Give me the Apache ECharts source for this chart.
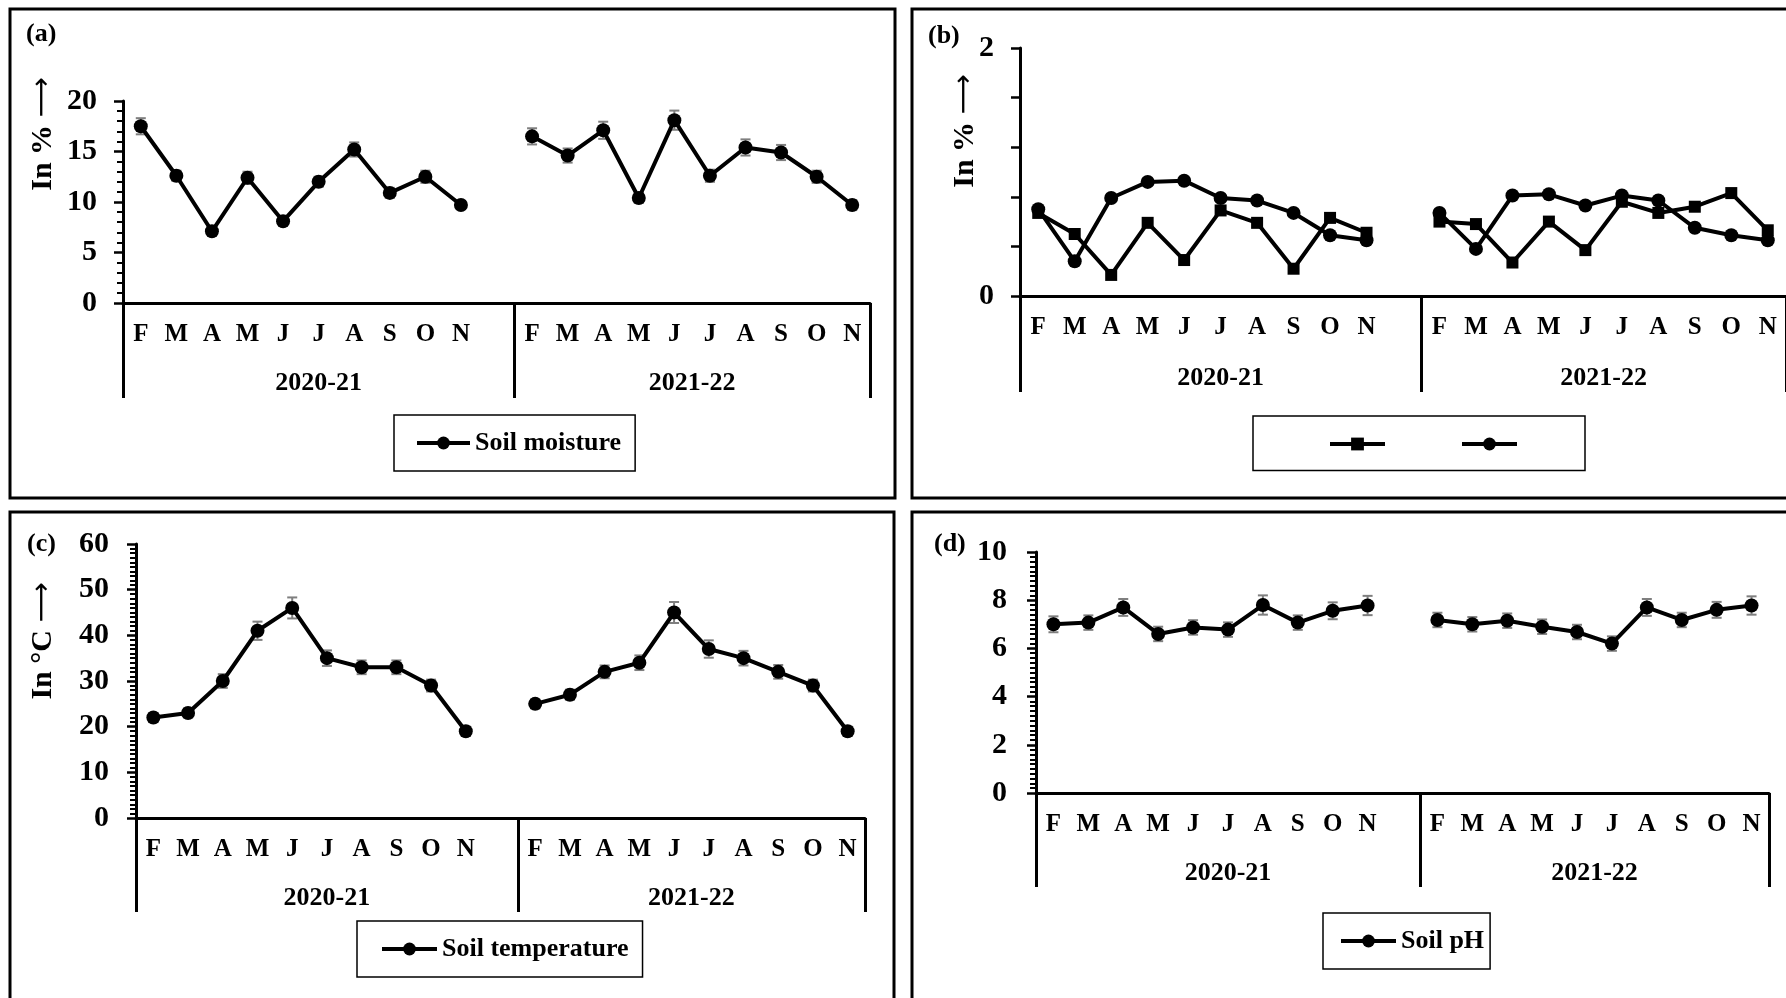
<!DOCTYPE html>
<html>
<head>
<meta charset="utf-8">
<title>Soil parameters 2020-22</title>
<script src="https://cdn.jsdelivr.net/npm/echarts@6/dist/echarts.min.js"></script>
<style>
  html, body { margin: 0; padding: 0; background: #ffffff; }
  #chart { width: 1786px; height: 998px; }
</style>
</head>
<body>
<div id="chart"></div>
<script>
// Month initials (February to November) and the two seasons
const months = ['F', 'M', 'A', 'M', 'J', 'J', 'A', 'S', 'O', 'N'];
const seasons = ['2020-21', '2021-22'];

// (a) Soil moisture, %
const moisture2020 = [17.5, 12.6, 7.1, 12.4, 8.1, 12.0, 15.2, 10.9, 12.5, 9.7];
const moisture2021 = [16.5, 14.6, 17.1, 10.4, 18.1, 12.6, 15.4, 14.9, 12.5, 9.7];
const moistureErr2020 = [0.8, 0.5, 0.4, 0.6, 0.4, 0.5, 0.7, 0.5, 0.6, 0.4];
const moistureErr2021 = [0.8, 0.7, 0.85, 0.5, 0.95, 0.6, 0.8, 0.75, 0.6, 0.5];

// (b) two series, %
const squares2020 = [0.67, 0.50, 0.17, 0.59, 0.29, 0.69, 0.59, 0.22, 0.63, 0.51];
const squares2021 = [0.60, 0.58, 0.27, 0.60, 0.37, 0.76, 0.67, 0.72, 0.83, 0.53];
const circles2020 = [0.70, 0.28, 0.79, 0.92, 0.93, 0.79, 0.77, 0.67, 0.49, 0.45];
const circles2021 = [0.67, 0.38, 0.81, 0.82, 0.73, 0.81, 0.77, 0.55, 0.49, 0.45];

// (c) Soil temperature, °C
const temp2020 = [22, 23, 30, 41, 46, 35, 33, 33, 29, 19];
const temp2021 = [25, 27, 32, 34, 45, 37, 35, 32, 29, 19];
const tempErr2020 = [1.0, 1.0, 1.5, 2.0, 2.3, 1.7, 1.5, 1.5, 1.3, 1.0];
const tempErr2021 = [1.0, 1.1, 1.4, 1.6, 2.3, 1.9, 1.6, 1.5, 1.3, 1.0];

// (d) Soil pH
const ph2020 = [7.0, 7.07, 7.7, 6.6, 6.87, 6.78, 7.8, 7.07, 7.56, 7.78];
const ph2021 = [7.18, 7.0, 7.15, 6.9, 6.68, 6.2, 7.7, 7.18, 7.6, 7.78];
const phErr2020 = [0.33, 0.3, 0.35, 0.3, 0.3, 0.3, 0.4, 0.3, 0.35, 0.4];
const phErr2021 = [0.3, 0.3, 0.3, 0.3, 0.3, 0.3, 0.35, 0.3, 0.33, 0.38];

// Y-axis tick settings per panel
const yTicksA = { max: 20, interval: 5, minor: 5 };
const yTicksB = { max: 2, interval: 0.4, minor: 0, shown: [0, 2] };
const yTicksC = { max: 60, interval: 10, minor: 10 };
const yTicksD = { max: 10, interval: 2, minor: 10 };

const FONT = '"Liberation Serif", "Times New Roman", serif';
const INK = '#000000';

// Season 1, an empty slot, season 2 on one category axis
const categories = [
  ...months.map((m, i) => seasons[0] + ':' + i),
  'gap',
  ...months.map((m, i) => seasons[1] + ':' + i)
];
const monthLabels = [...months, '', ...months];
const GAP_INDEX = months.length;
const SLOTS = categories.length;

function joinSeasons(a, b) { return [...a, null, ...b]; }
function errorData(vals, errs) {
  const out = [];
  vals.forEach((v, i) => { if (v != null) out.push([i, v, errs[i]]); });
  return out;
}

function bandAxes(gridIndex, drop, yearMargin) {
  return [
    {
      type: 'category', gridIndex, data: categories, boundaryGap: true,
      axisLine: { show: true, lineStyle: { color: INK, width: 3 } },
      axisTick: { show: false },
      splitLine: { show: false },
      axisLabel: {
        interval: 0, margin: 19, color: INK,
        fontFamily: FONT, fontWeight: 'bold', fontSize: 25,
        formatter: (v, idx) => monthLabels[idx]
      }
    },
    {
      type: 'value', gridIndex, min: 0, max: SLOTS, position: 'bottom',
      axisLine: { show: false },
      splitLine: { show: false },
      axisTick: {
        show: true, customValues: [0, GAP_INDEX + 1, SLOTS], length: drop,
        lineStyle: { color: INK, width: 3 }
      },
      axisLabel: {
        customValues: [(GAP_INDEX + 1) / 2, (GAP_INDEX + 1 + SLOTS) / 2],
        margin: yearMargin, color: INK,
        fontFamily: FONT, fontWeight: 'bold', fontSize: 26,
        formatter: v => (v < GAP_INDEX + 1 ? seasons[0] : seasons[1])
      }
    }
  ];
}

function valueAxis(gridIndex, t, margin) {
  return {
    type: 'value', gridIndex, min: 0, max: t.max, interval: t.interval,
    axisLine: { show: true, lineStyle: { color: INK, width: 3 } },
    axisTick: { show: true, length: 9, lineStyle: { color: INK, width: 2.5 } },
    minorTick: { show: t.minor > 0, splitNumber: t.minor || 5, length: 6, lineStyle: { color: INK, width: 2 } },
    splitLine: { show: false },
    minorSplitLine: { show: false },
    axisLabel: {
      margin, color: INK, fontFamily: FONT, fontWeight: 'bold', fontSize: 30,
      formatter: v => (t.shown ? (t.shown.some(s => Math.abs(s - v) < 1e-9) ? String(v) : '') : String(v))
    }
  };
}

function lineSeries(name, data, gridIndex, symbol, size) {
  return {
    type: 'line', name, data,
    xAxisIndex: gridIndex * 2, yAxisIndex: gridIndex,
    symbol, symbolSize: size, showSymbol: true, connectNulls: false,
    lineStyle: { color: INK, width: 4 },
    itemStyle: { color: INK },
    emphasis: { disabled: true },
    z: 3
  };
}

function errorSeries(data, gridIndex) {
  return {
    type: 'custom', xAxisIndex: gridIndex * 2, yAxisIndex: gridIndex,
    data, encode: { x: 0, y: 1 }, z: 1, silent: true,
    renderItem: (params, api) => {
      const x = api.value(0), y = api.value(1), e = api.value(2);
      const hi = api.coord([x, y + e]);
      const lo = api.coord([x, y - e]);
      const cap = 5;
      const style = { stroke: '#7f7f7f', lineWidth: 2 };
      return {
        type: 'group',
        children: [
          { type: 'line', shape: { x1: hi[0], y1: hi[1], x2: lo[0], y2: lo[1] }, style },
          { type: 'line', shape: { x1: hi[0] - cap, y1: hi[1], x2: hi[0] + cap, y2: hi[1] }, style },
          { type: 'line', shape: { x1: lo[0] - cap, y1: lo[1], x2: lo[0] + cap, y2: lo[1] }, style }
        ]
      };
    }
  };
}

const legendText = { color: INK, fontFamily: FONT, fontWeight: 'bold', fontSize: 26 };
const legendBox = {
  borderColor: INK, borderWidth: 1.5, backgroundColor: '#ffffff', orient: 'horizontal', selectedMode: false,
  lineStyle: { width: 4, color: INK }, itemStyle: { color: INK }
};

const chart = echarts.init(document.getElementById('chart'), null, { renderer: 'canvas' });

const LETTER_FONT = 'bold 26px "Liberation Serif", "Times New Roman", serif';
// rotated axis titles: bold serif words followed by a long thin arrow
const titleRich = {
  w: { fontFamily: FONT, fontWeight: 'bold', fontSize: 30, fill: INK },
  arr: { fontFamily: '"DejaVu Sans", sans-serif', fontWeight: 'normal', fontSize: 28, fill: INK }
};
function axisTitle(x, y, words) {
  return {
    type: 'text', silent: true, x, y, rotation: Math.PI / 2,
    style: { text: '{w|' + words + ' }{arr|\u27f6}', rich: titleRich, fill: INK, textAlign: 'center', textVerticalAlign: 'middle' }
  };
}

const option = {
  backgroundColor: '#ffffff',
  animation: false,
  grid: [
    { left: 123, top: 101, width: 747, height: 202 },
    { left: 1020, top: 48, width: 773, height: 248 },
    { left: 136, top: 544, width: 729, height: 274 },
    { left: 1036, top: 552, width: 733, height: 241 }
  ],
  xAxis: [
    ...bandAxes(0, 95, 67),
    ...bandAxes(1, 96, 69),
    ...bandAxes(2, 94, 67),
    ...bandAxes(3, 94, 67)
  ],
  yAxis: [
    valueAxis(0, yTicksA, 26),
    valueAxis(1, yTicksB, 26),
    valueAxis(2, yTicksC, 27),
    valueAxis(3, yTicksD, 29)
  ],
  legend: [
    Object.assign({ left: 394, top: 415, padding: [15, 14, 15, 21], itemWidth: 53, itemHeight: 16,
      data: ['Soil moisture'], textStyle: legendText }, legendBox),
    Object.assign({ left: 1253, top: 416, padding: [20, 66, 20, 75], itemWidth: 55, itemHeight: 16, itemGap: 73,
      data: ['Square series', 'Circle series'], formatter: () => '', textStyle: legendText }, legendBox),
    Object.assign({ left: 357, top: 921, padding: [15, 14, 15, 23], itemWidth: 55, itemHeight: 16,
      data: ['Soil temperature'], textStyle: legendText }, legendBox),
    Object.assign({ left: 1323, top: 913, padding: [15, 6, 15, 16], itemWidth: 55, itemHeight: 16,
      data: ['Soil pH'], textStyle: legendText }, legendBox)
  ],
  series: [
    errorSeries(errorData(joinSeasons(moisture2020, moisture2021), joinSeasons(moistureErr2020, moistureErr2021)), 0),
    lineSeries('Soil moisture', joinSeasons(moisture2020, moisture2021), 0, 'circle', 14),

    lineSeries('Square series', joinSeasons(squares2020, squares2021), 1, 'rect', 12),
    lineSeries('Circle series', joinSeasons(circles2020, circles2021), 1, 'circle', 14),

    errorSeries(errorData(joinSeasons(temp2020, temp2021), joinSeasons(tempErr2020, tempErr2021)), 2),
    lineSeries('Soil temperature', joinSeasons(temp2020, temp2021), 2, 'circle', 14),

    errorSeries(errorData(joinSeasons(ph2020, ph2021), joinSeasons(phErr2020, phErr2021)), 3),
    lineSeries('Soil pH', joinSeasons(ph2020, ph2021), 3, 'circle', 14)
  ],
  graphic: [
    // panel frames
    { type: 'rect', silent: true, z: 0, shape: { x: 10, y: 9, width: 885, height: 489 }, style: { fill: null, stroke: INK, lineWidth: 3 } },
    { type: 'rect', silent: true, z: 0, shape: { x: 912, y: 9, width: 900, height: 489 }, style: { fill: null, stroke: INK, lineWidth: 3 } },
    { type: 'rect', silent: true, z: 0, shape: { x: 10, y: 512, width: 884, height: 600 }, style: { fill: null, stroke: INK, lineWidth: 3 } },
    { type: 'rect', silent: true, z: 0, shape: { x: 912, y: 512, width: 900, height: 600 }, style: { fill: null, stroke: INK, lineWidth: 3 } },
    // panel letters
    { type: 'text', silent: true, x: 26, y: 34, style: { text: '(a)', fill: INK, font: LETTER_FONT, textVerticalAlign: 'middle' } },
    { type: 'text', silent: true, x: 928, y: 36, style: { text: '(b)', fill: INK, font: LETTER_FONT, textVerticalAlign: 'middle' } },
    { type: 'text', silent: true, x: 27, y: 544, style: { text: '(c)', fill: INK, font: LETTER_FONT, textVerticalAlign: 'middle' } },
    { type: 'text', silent: true, x: 934, y: 544, style: { text: '(d)', fill: INK, font: LETTER_FONT, textVerticalAlign: 'middle' } },
    // axis titles
    axisTitle(43, 134, 'In %'),
    axisTitle(965, 131, 'In %'),
    axisTitle(43, 641, 'In \u00b0C')
  ]
};

chart.setOption(option);
</script>
</body>
</html>
